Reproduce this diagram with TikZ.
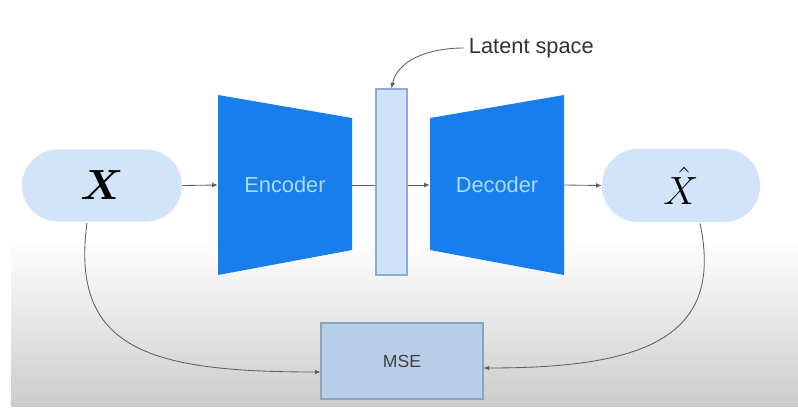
\documentclass[tikz,border=0pt]{standalone}
\usepackage{fix-cm}
\usepackage{amsmath,amssymb}
\usepackage{fontspec}
\setmainfont{Liberation Sans}
\usepackage{tikz}
\usetikzlibrary{arrows.meta, positioning, calc}

\begin{document}
\begin{tikzpicture}[x=0.025cm, y=-0.025cm]

% ── Colour palette ──────────────────────────────────────────
\definecolor{netblue}{RGB}{24,126,238}
\definecolor{nettext}{RGB}{170,218,255}
\definecolor{pill}{RGB}{210,228,250}
\definecolor{latfill}{RGB}{208,226,250}
\definecolor{latdraw}{RGB}{140,172,212}
\definecolor{msefill}{RGB}{184,205,230}
\definecolor{msedraw}{RGB}{136,164,196}
\definecolor{wire}{RGB}{95,95,95}

\tikzset{
  wire/.style={draw=wire, line width=0.6pt},
  tip/.style={wire, -{Latex[length=4pt,width=3.5pt]}},
  pillbox/.style={fill=pill, draw=none, minimum width=4cm,
                  minimum height=1.8cm, rounded corners=0.9cm},
  netlabel/.style={text=nettext, font=\fontsize{15.5}{18}\selectfont},
}

\useasboundingbox (0,0) rectangle (798,410);

% ── Background shading ──────────────────────────────────────
\shade[top color=white, bottom color=black!20] (11,240) rectangle (798,406);

% ── Input and output ────────────────────────────────────────
\node[pillbox] (x) at (102,185.5)
    {\fontsize{30}{36}\selectfont$\boldsymbol{X}$};
\node[pillbox, minimum width=3.95cm, minimum height=1.83cm] (xhat) at (681,185.5)
    {\fontsize{28}{34}\selectfont$\hat{X}$};

% ── Encoder / decoder trapezia ──────────────────────────────
\fill[netblue] (218,95) -- (352,118) -- (352,250) -- (218,275) -- cycle;
\fill[netblue] (430,118) -- (564,95) -- (564,275) -- (430,250) -- cycle;
\node[netlabel, minimum width=3.35cm, inner sep=0pt] (enc) at (285,185) {Encoder};
\node[netlabel, minimum width=3.35cm, inner sep=0pt] (dec) at (497,185) {Decoder};

% ── Latent bar ──────────────────────────────────────────────
\node[fill=latfill, draw=latdraw, line width=0.8pt, minimum width=0.775cm,
      minimum height=4.65cm, inner sep=0pt] (lat) at (391.5,182) {};
\node[anchor=west, text=black!80, font=\fontsize{15.5}{18}\selectfont]
    (latlbl) at (464,48) {Latent space};

% ── MSE box ─────────────────────────────────────────────────
\node[fill=msefill, draw=msedraw, line width=0.8pt, minimum width=4.05cm,
      minimum height=1.9cm, text=black!75,
      font=\fontsize{12.5}{15}\selectfont] (mse) at (402,361) {MSE};

% ── Forward path ────────────────────────────────────────────
\draw[tip] (x.east) -- (enc.west);
\draw[wire] (enc.east) -- (enc.east -| lat.west);
\draw[tip] (dec.west -| lat.east) -- (dec.west);
\draw[tip] (dec.east) -- (xhat.west);
\draw[tip] (latlbl.west) .. controls (425,48) and (397,62) .. (lat.north);

% ── Loss connections ────────────────────────────────────────
\draw[tip] ($(x.south)+(-15,1)$) .. controls (70,350) and (150,372)
    .. ($(mse.west)+(0,11)$);
\draw[tip] ($(xhat.south)+(19,1)$) .. controls (725,340) and (640,368)
    .. ($(mse.east)+(0,7)$);

\end{tikzpicture}
\end{document}
